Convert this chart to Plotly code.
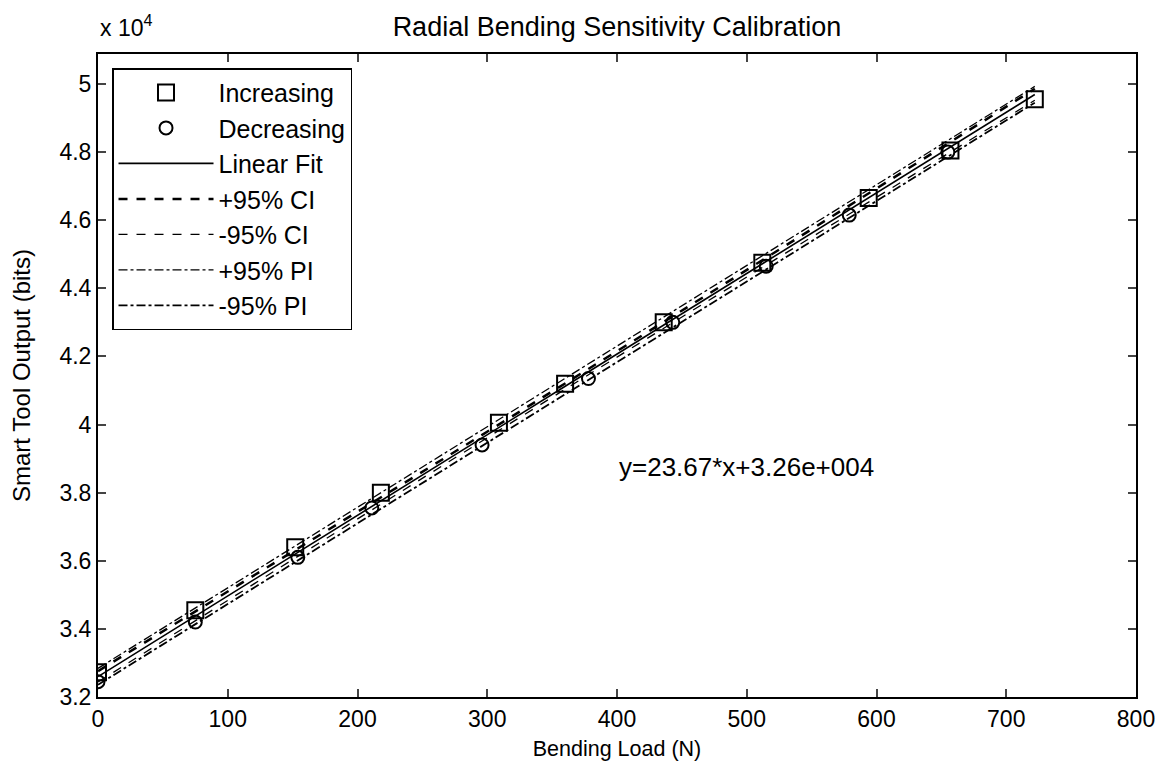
import plotly.graph_objects as go

# ---- data (bits) ----
inc_x = [0, 75, 152, 218, 309, 360, 436, 512, 594, 657, 722]
inc_y = [32730, 34550, 36400, 38000, 40050, 41200, 43000, 44750, 46650, 48050, 49550]
dec_x = [0, 75, 154, 211, 296, 378, 443, 515, 579, 655]
dec_y = [32450, 34200, 36100, 37550, 39400, 41350, 43000, 44650, 46150, 48000]

band_x = [0, 361, 722]
fit_y = [32600, 41145, 49690]
ci_upper = [32760, 41230, 49860]
ci_lower = [32440, 41060, 49520]
pi_upper = [32840, 41380, 49930]
pi_lower = [32360, 40910, 49450]

x_ticks = [0, 100, 200, 300, 400, 500, 600, 700, 800]
y_ticks = [32000, 34000, 36000, 38000, 40000, 42000, 44000, 46000, 48000, 50000]
y_ticktext = ["3.2", "3.4", "3.6", "3.8", "4", "4.2", "4.4", "4.6", "4.8", "5"]

FONT = "Liberation Sans, Arial, sans-serif"

fig = go.Figure()
fig.add_trace(go.Scatter(x=inc_x, y=inc_y, mode="markers", name="Increasing",
                         marker=dict(symbol="square-open", size=16, color="black",
                                     line=dict(width=2, color="black"))))
fig.add_trace(go.Scatter(x=dec_x, y=dec_y, mode="markers", name="Decreasing",
                         marker=dict(symbol="circle-open", size=13, color="black",
                                     line=dict(width=2, color="black"))))
fig.add_trace(go.Scatter(x=band_x, y=fit_y, mode="lines", name="Linear Fit",
                         line=dict(color="black", width=1.6, shape="spline")))
fig.add_trace(go.Scatter(x=band_x, y=ci_upper, mode="lines", name="+95% CI",
                         line=dict(color="black", width=2.5, dash="dash", shape="spline")))
fig.add_trace(go.Scatter(x=band_x, y=ci_lower, mode="lines", name="-95% CI",
                         line=dict(color="black", width=1.3, dash="dash", shape="spline")))
fig.add_trace(go.Scatter(x=band_x, y=pi_upper, mode="lines", name="+95% PI",
                         line=dict(color="black", width=1.3, dash="dashdot", shape="spline")))
fig.add_trace(go.Scatter(x=band_x, y=pi_lower, mode="lines", name="-95% PI",
                         line=dict(color="black", width=1.8, dash="dashdot", shape="spline")))

fig.update_layout(
    width=1166, height=770,
    margin=dict(l=90, r=38, t=46, b=81),
    paper_bgcolor="white", plot_bgcolor="white",
    font=dict(family=FONT, size=21, color="black"),
    title=dict(text="Radial Bending Sensitivity Calibration", xref="paper", x=0.5,
               xanchor="center", y=0.976, yanchor="middle", font=dict(size=27)),
    showlegend=True,
    legend=dict(x=0.0135, y=0.978, xanchor="left", yanchor="top",
                bgcolor="white", bordercolor="black", borderwidth=1.5,
                font=dict(size=25), tracegroupgap=0, itemwidth=95),
)
fig.update_xaxes(range=[0, 800], tickvals=x_ticks, ticks="inside", ticklen=8, tickwidth=2,
                 showline=True, linecolor="black", linewidth=2, mirror="ticks",
                 showgrid=False, zeroline=False, tickfont=dict(size=23),
                 title=dict(text="Bending Load (N)", font=dict(size=21.5), standoff=10))
fig.update_yaxes(range=[32000, 50880], tickvals=y_ticks, ticktext=y_ticktext,
                 ticks="inside", ticklen=8, tickwidth=2,
                 showline=True, linecolor="black", linewidth=2, mirror="ticks",
                 showgrid=False, zeroline=False, tickfont=dict(size=23),
                 title=dict(text="Smart Tool Output (bits)", font=dict(size=24), standoff=22))

fig.add_annotation(text="x 10<sup>4</sup>", xref="paper", yref="paper", x=0.0, y=1.0,
                   xanchor="left", yanchor="bottom", yshift=11, showarrow=False,
                   font=dict(size=23))
fig.add_annotation(text="y=23.67*x+3.26e+004", xref="x", yref="y", x=400, y=38750,
                   xanchor="left", yanchor="middle", showarrow=False, font=dict(size=26))

fig.write_html("out.html")
